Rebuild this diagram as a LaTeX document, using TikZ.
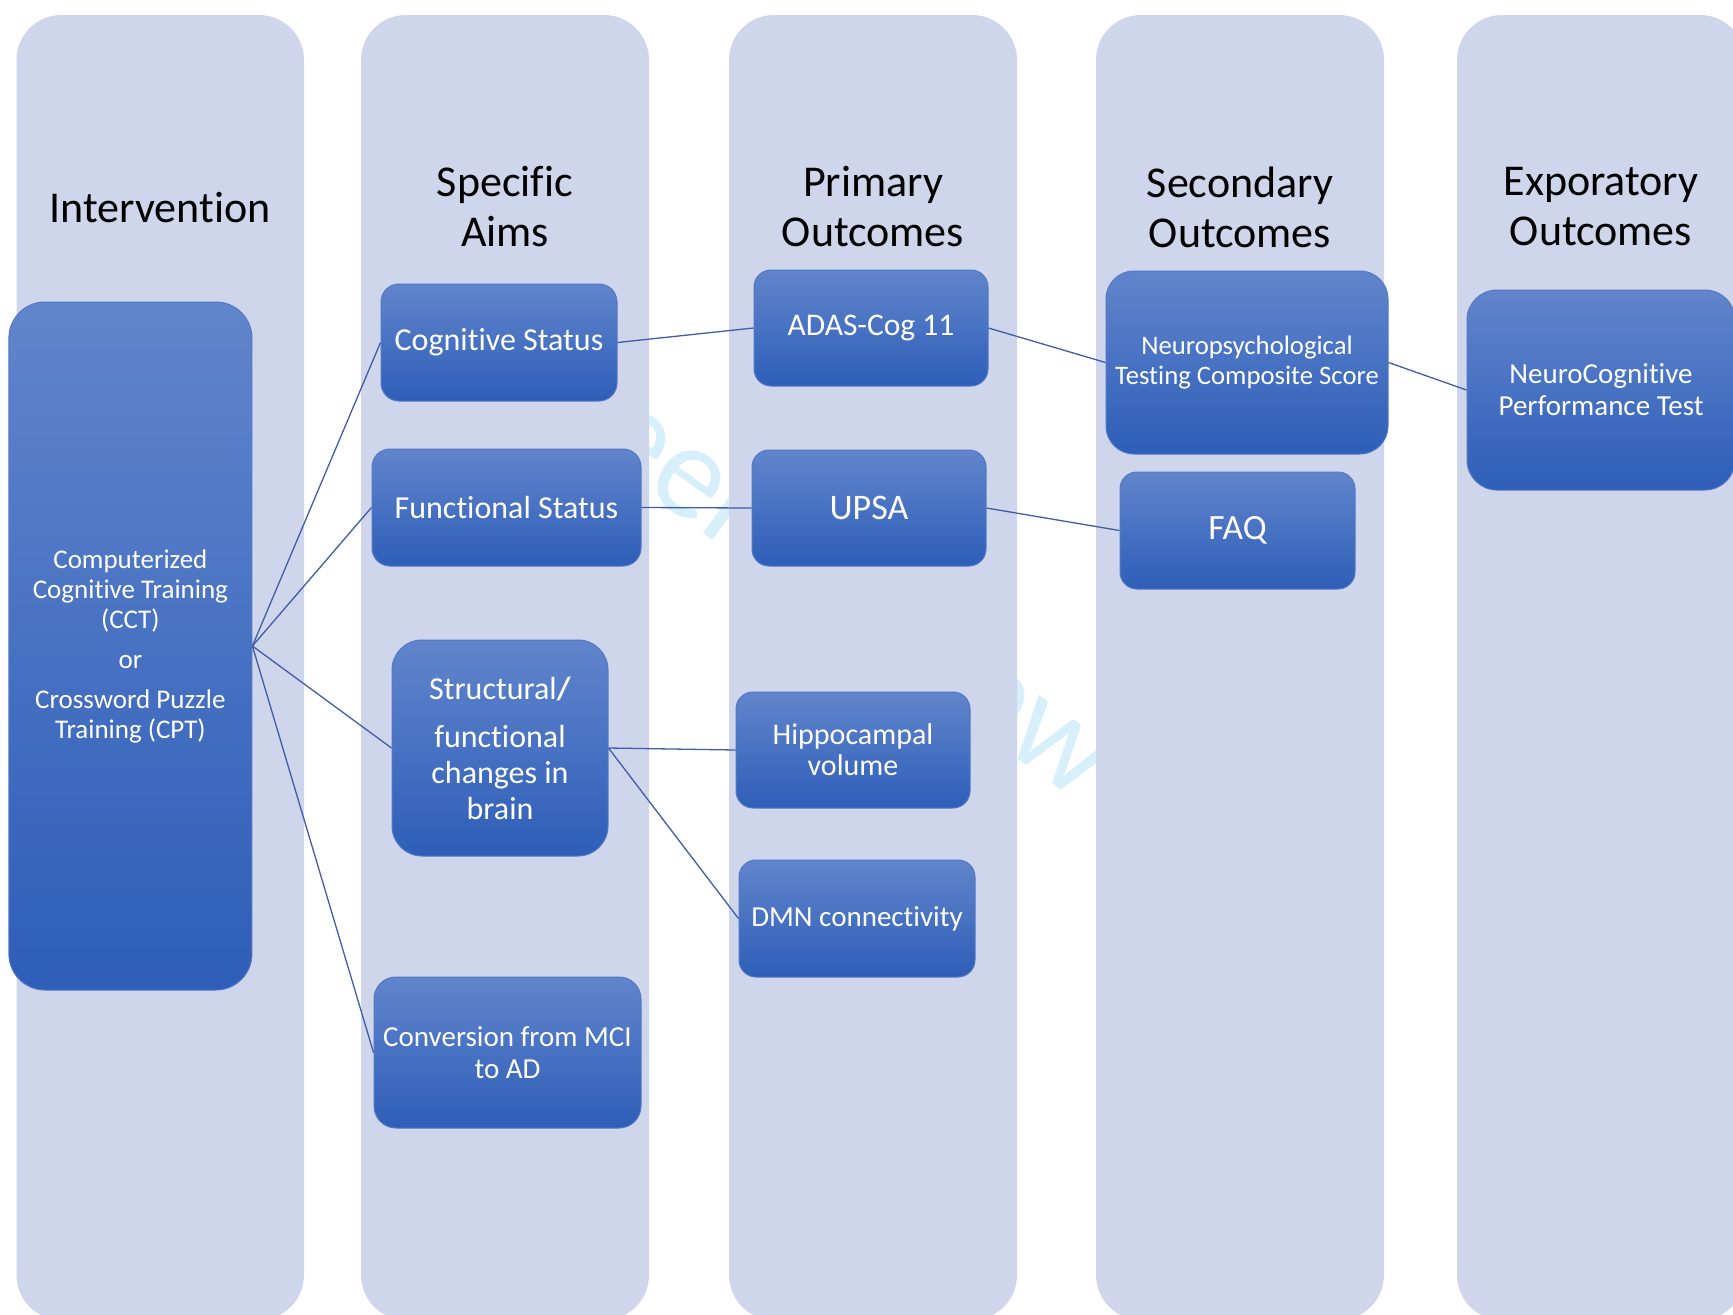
\documentclass[tikz,border=0pt]{standalone}
\usepackage{fontspec}
\setmainfont{Carlito}[Ligatures=NoCommon]
\newcommand\fsz[2]{\fontsize{#1}{#2}\selectfont}
\definecolor{colbg}{HTML}{CFD5EA}
\definecolor{boxtop}{HTML}{6185CC}
\definecolor{boxbot}{HTML}{2E5EB8}
\definecolor{boxline}{HTML}{5479C4}
\definecolor{linkcol}{HTML}{3D5EA8}
\definecolor{wmark}{HTML}{D6EFFB}
\tikzset{
  column/.style={fill=colbg, draw=none, rounded corners=45pt},
  header/.style={text=black, align=center, font=\fsz{44}{50}},
  box/.style={rounded corners=#1, top color=boxtop, bottom color=boxbot,
    draw=boxline, line width=1pt, text=white, align=center, inner sep=0pt},
  box/.default=18pt,
  link/.style={draw=linkcol, line width=1.3pt}
}
\begin{document}
\begin{tikzpicture}[x=1pt,y=-1pt]
\path[use as bounding box] (0,0) rectangle (1733,1315);
\clip (0,0) rectangle (1733,1315);

% faint watermark, lying behind the columns
\node[anchor=base west, rotate=-35.7, text=wmark, font=\fsz{135}{150}, inner sep=0pt]
  (wm) at (533,411) {Peer Review};

% five column panels
\path[column] (16.5,15) rectangle (304,1320);
\path[column] (361,15) rectangle (649,1320);
\path[column] (729,15) rectangle (1017,1320);
\path[column] (1096,15) rectangle (1384,1320);
\path[column] (1457,15) rectangle (1745,1320);

% column headings
\node[header] (h1) at (160,208) {Intervention};
\node[header] (h2) at (505,207) {Specific\\Aims};
\node[header] (h3) at (873,207) {Primary\\Outcomes};
\node[header] (h4) at (1240,207) {Secondary\\Outcomes};
\node[header] (h5) at (1601,207) {Exporatory\\Outcomes};

% intervention
\node[box=36pt, minimum width=243pt, minimum height=688pt, font=\fsz{27}{30}]
  (cct) at (130.4,646) {Computerized\\Cognitive Training\\(CCT)\\[10pt]or\\[10pt]Crossword Puzzle\\Training (CPT)};

% specific aims
\node[box=18pt, minimum width=236pt, minimum height=117pt, font=\fsz{32}{36}]
  (cog) at (499,342.5) {Cognitive Status};
\node[box=18pt, minimum width=269pt, minimum height=117pt, font=\fsz{32}{36}]
  (func) at (506.5,507.5) {Functional Status};
\node[box=30pt, minimum width=216pt, minimum height=216pt, font=\fsz{32}{36}]
  (struct) at (500,748) {Structural\textbf{/}\\[12pt]functional\\changes in\\brain};
\node[box=22pt, minimum width=267pt, minimum height=151pt, font=\fsz{29}{32}]
  (conv) at (507.5,1052.5) {Conversion from MCI\\to AD};

% primary outcomes
\node[box=17pt, minimum width=234pt, minimum height=116pt, font=\fsz{31.5}{36}]
  (adas) at (871,328) {ADAS-Cog 11};
\node[box=17pt, minimum width=234pt, minimum height=116pt, font=\fsz{36}{40}]
  (upsa) at (869,508) {UPSA};
\node[box=17pt, minimum width=234pt, minimum height=116pt, font=\fsz{30}{31}]
  (hip) at (853,750) {Hippocampal\\volume};
\node[box=17pt, minimum width=236pt, minimum height=117pt, font=\fsz{29}{32}]
  (dmn) at (857,918.5) {DMN connectivity};

% secondary outcomes
\node[box=28pt, minimum width=282pt, minimum height=183pt, font=\fsz{26.7}{30}]
  (ntcs) at (1247,362.5) {Neuropsychological\\Testing Composite Score};
\node[box=17pt, minimum width=235pt, minimum height=117pt, font=\fsz{35.5}{40}]
  (faq) at (1237.5,530.5) {FAQ};

% exploratory outcomes
\node[box=30pt, minimum width=268pt, minimum height=200pt, font=\fsz{29}{32}]
  (neuro) at (1601,390) {NeuroCognitive\\Performance Test};

% connectors
\draw[link] (cct.east) -- (cog.west);
\draw[link] (cct.east) -- (func.west);
\draw[link] (cct.east) -- (struct.west);
\draw[link] (cct.east) -- (conv.west);
\draw[link] (cog.east) -- (adas.west);
\draw[link] (func.east) -- (upsa.west);
\draw[link] (struct.east) -- (hip.west);
\draw[link] (struct.east) -- (dmn.west);
\draw[link] (adas.east) -- (ntcs.west);
\draw[link] (upsa.east) -- (faq.west);
\draw[link] (ntcs.east) -- (neuro.west);
\end{tikzpicture}
\end{document}
